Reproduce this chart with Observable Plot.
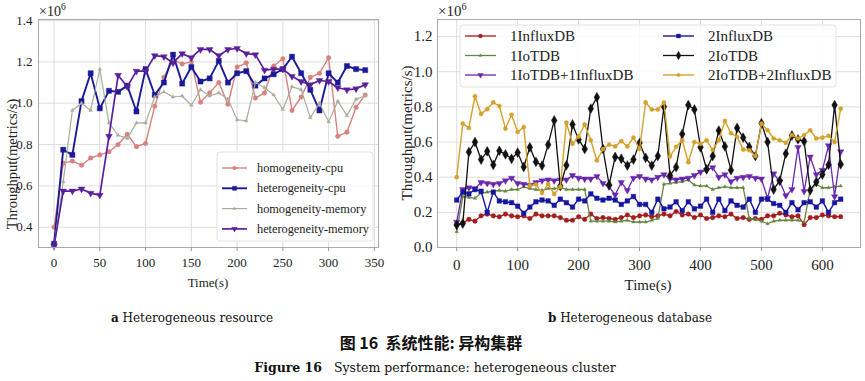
<!DOCTYPE html>
<html><head><meta charset="utf-8">
<script src="https://cdn.jsdelivr.net/npm/d3@7"></script>
<script src="https://cdn.jsdelivr.net/npm/@observablehq/plot@0.6"></script>
<style>
body{margin:0;background:#fff;}
#root{position:relative;width:865px;height:381px;overflow:hidden;font-family:"Liberation Serif",serif;background:#fff;}
#left{position:absolute;left:0;top:0;}
#right{position:absolute;left:400px;top:0;}
.cap{position:absolute;white-space:pre;transform:translate(-50%,-50%);color:#111;}
</style></head><body>
<div id="root">
<div id="left"></div><div id="right"></div>
<div class="cap" style="left:192px;top:318px;font-family:'DejaVu Serif';font-size:12px"><b>a</b> Heterogeneous resource</div>
<div class="cap" style="left:630px;top:318px;font-family:'DejaVu Serif';font-size:12px"><b>b</b> Heterogeneous database</div>
<div class="cap" style="left:431px;top:342px;font-family:'Noto Sans CJK SC';font-weight:bold;font-size:16px">图 16  系统性能: 异构集群</div>
<div class="cap" style="left:435px;top:367px;font-family:'DejaVu Serif';font-size:12.5px"><b>Figure 16</b>   System performance: heterogeneous cluster</div>
</div>
<script>
// ---------- Data: panel a ----------
const timeA = [0,10,20,30,40,50,60,70,80,90,100,110,120,130,140,150,160,170,180,190,200,210,220,230,240,250,260,270,280,290,300,310,320,330,340];
const homoCpu = [0.40,0.71,0.72,0.70,0.735,0.75,0.765,0.80,0.85,0.79,0.805,0.985,1.125,1.21,1.19,1.20,1.005,1.05,1.10,0.995,1.175,1.195,1.025,1.05,1.18,1.215,0.965,1.03,1.125,1.145,1.22,0.84,0.86,0.98,1.04];
const heteroCpu = [0.32,0.775,0.75,1.01,1.145,0.975,1.06,1.055,1.085,0.96,1.165,1.04,1.10,1.235,1.095,1.175,1.105,1.12,1.205,1.10,1.145,1.155,1.085,1.12,1.14,1.165,1.225,1.145,1.065,0.965,1.145,1.10,1.18,1.165,1.16];
const homoMem = [0.31,0.62,0.965,1.0,0.965,1.165,0.905,0.845,0.83,0.905,0.905,1.03,1.055,1.03,1.035,0.99,1.065,1.035,1.05,1.02,0.92,0.915,1.1,1.075,1.04,0.97,1.08,1.065,0.93,1.0,0.91,1.01,0.94,1.02,1.035];
const heteroMem = [0.31,0.575,0.575,0.585,0.565,0.555,0.84,1.135,1.08,1.155,1.155,1.23,1.225,1.195,1.24,1.22,1.26,1.26,1.23,1.26,1.265,1.24,1.235,1.16,1.165,1.165,1.13,1.105,1.09,1.11,1.105,1.075,1.065,1.07,1.09];
const xTicksA = [0,50,100,150,200,250,300,350];
const yTicksA = [0.4,0.6,0.8,1.0,1.2,1.4];

// ---------- Data: panel b ----------
const timeB = [0,10,20,30,40,50,60,70,80,90,100,110,120,130,140,150,160,170,180,190,200,210,220,230,240,250,260,270,280,290,300,310,320,330,340,350,360,370,380,390,400,410,420,430,440,450,460,470,480,490,500,510,520,530,540,550,560,570,580,590,600,610,620,630];
const influx1 = [0.13,0.14,0.16,0.15,0.18,0.19,0.18,0.175,0.19,0.18, 0.175,0.18,0.165,0.19,0.18,0.18,0.18,0.17,0.155,0.155, 0.175,0.16,0.19,0.165,0.17,0.165,0.16,0.17,0.185,0.17, 0.18,0.185,0.175,0.18,0.19,0.18,0.205,0.185,0.19,0.17, 0.185,0.165,0.17,0.18,0.175,0.19,0.165,0.17,0.16,0.165, 0.16,0.18,0.18,0.195,0.185,0.175,0.18,0.13,0.17,0.17, 0.185,0.18,0.175,0.175];
const iotdb1 = [0.09,0.29,0.285,0.28,0.31,0.315,0.32,0.325,0.32,0.33, 0.33,0.345,0.335,0.33,0.325,0.335,0.335,0.34,0.33,0.33, 0.33,0.33,0.15,0.15,0.15,0.15,0.145,0.15,0.155,0.145, 0.145,0.145,0.155,0.165,0.36,0.365,0.37,0.375,0.385,0.355, 0.35,0.35,0.33,0.34,0.345,0.34,0.34,0.34,0.165,0.16, 0.15,0.135,0.15,0.155,0.155,0.155,0.155,0.145,0.33,0.36, 0.34,0.34,0.345,0.35];
const mix1 = [0.145,0.33,0.34,0.335,0.37,0.365,0.36,0.365,0.38,0.395, 0.365,0.36,0.355,0.37,0.38,0.385,0.38,0.385,0.385,0.41, 0.395,0.39,0.39,0.405,0.365,0.345,0.30,0.37,0.325,0.395, 0.405,0.39,0.385,0.40,0.415,0.39,0.385,0.39,0.395,0.41, 0.43,0.44,0.455,0.40,0.415,0.375,0.395,0.40,0.405,0.395, 0.39,0.28,0.42,0.375,0.295,0.33,0.57,0.32,0.515,0.415, 0.44,0.58,0.29,0.545];
const influx2 = [0.27,0.315,0.305,0.33,0.32,0.20,0.315,0.265,0.26,0.255, 0.235,0.195,0.23,0.26,0.27,0.265,0.24,0.275,0.255,0.23, 0.275,0.265,0.305,0.28,0.27,0.28,0.27,0.245,0.265,0.29, 0.245,0.245,0.20,0.275,0.22,0.23,0.26,0.21,0.26,0.22, 0.235,0.275,0.20,0.275,0.21,0.265,0.24,0.23,0.275,0.20, 0.275,0.275,0.25,0.24,0.20,0.255,0.215,0.255,0.26,0.23, 0.265,0.20,0.255,0.275];
const iotdb2 = [0.128,0.136,0.543,0.60,0.50,0.547,0.47,0.55,0.53,0.505, 0.54,0.458,0.57,0.487,0.466,0.585,0.723,0.35,0.468,0.70, 0.615,0.56,0.79,0.855,0.56,0.357,0.515,0.505,0.466,0.50, 0.595,0.51,0.466,0.52,0.80,0.41,0.457,0.645,0.81,0.785, 0.57,0.445,0.52,0.665,0.575,0.44,0.68,0.625,0.572,0.52, 0.707,0.60,0.33,0.38,0.534,0.637,0.615,0.604,0.326,0.373, 0.415,0.47,0.81,0.473];
const mix2 = [0.40,0.705,0.68,0.86,0.76,0.787,0.825,0.805,0.676,0.755, 0.657,0.685,0.35,0.358,0.31,0.36,0.305,0.345,0.71,0.59, 0.63,0.70,0.61,0.495,0.56,0.585,0.575,0.605,0.575,0.625, 0.56,0.825,0.785,0.785,0.825,0.518,0.573,0.61,0.485,0.60, 0.59,0.61,0.555,0.61,0.72,0.65,0.63,0.557,0.553,0.52, 0.705,0.667,0.62,0.61,0.595,0.64,0.62,0.64,0.667,0.62, 0.625,0.635,0.60,0.79];
const xTicksB = [0,100,200,300,400,500,600];
const yTicksB = [0,0.2,0.4,0.6,0.8,1.0,1.2];

// ---------- series styles ----------
const seriesA = [
  {name:"homogeneity-cpu", values:homoCpu, color:"#d9817f", symbol:"circle", r:2.3, rotate:0, sw:1.4},
  {name:"heterogeneity-cpu", values:heteroCpu, color:"#1a1a98", symbol:"square", r:2.9, rotate:0, sw:1.9},
  {name:"homogeneity-memory", values:homoMem, color:"#a6ae9e", symbol:"triangle", r:1.4, rotate:0, sw:1.2},
  {name:"heterogeneity-memory", values:heteroMem, color:"#5a1f9c", symbol:"triangle", r:2.5, rotate:180, sw:1.7}
];
const seriesB = [
  {name:"1InfluxDB", values:influx1, color:"#a51c1c", symbol:"circle", r:2.3, rotate:0, sw:1.3},
  {name:"1IoTDB", values:iotdb1, color:"#66863f", symbol:"triangle", r:1.3, rotate:0, sw:1.3},
  {name:"1IoTDB+1InfluxDB", values:mix1, color:"#6a27ae", symbol:"triangle", r:2.4, rotate:180, sw:1.3},
  {name:"2InfluxDB", values:influx2, color:"#1616a0", symbol:"square", r:2.6, rotate:0, sw:1.4},
  {name:"2IoTDB", values:iotdb2, color:"#111111", symbol:"diamond", r:3.0, rotate:0, sw:1.3},
  {name:"2IoTDB+2InfluxDB", values:mix2, color:"#d4a12b", symbol:"circle", r:2.1, rotate:0, sw:1.4}
];

function rows(times, s){ return s.values.map((v,i)=>({t:times[i], v, name:s.name})); }
function seriesMarks(times, list){
  return list.flatMap(s => {
    const d = rows(times, s);
    return [
      Plot.line(d,{x:"t",y:"v",stroke:s.color,strokeWidth:s.sw}),
      Plot.dot(d,{x:"t",y:"v",symbol:s.symbol,r:s.r,fill:s.color,stroke:s.color,strokeWidth:0.4,rotate:s.rotate})
    ];
  });
}
const gridStyle = {stroke:"#dedede", strokeOpacity:1, strokeWidth:1};

const left = Plot.plot({
  width:400, height:300, marginLeft:38, marginRight:22, marginTop:19, marginBottom:53,
  style:{fontFamily:"Liberation Serif", background:"#fff", color:"#222", overflow:"hidden"},
  x:{domain:[-17,354.5]}, y:{domain:[0.302,1.405]},
  marks:[
    Plot.gridX(xTicksA, gridStyle),
    Plot.gridY(yTicksA, gridStyle),
    ...seriesMarks(timeA, seriesA),
    Plot.frame({stroke:"#aaa"}),
    Plot.axisX(xTicksA,{tickSize:4, tickPadding:6, fontSize:13, label:null, stroke:"#999"}),
    Plot.axisY(yTicksA,{tickSize:0, tickPadding:6, fontSize:13, tickFormat:d3.format(".1f"), label:null})
  ]
});

const right = Plot.plot({
  width:465, height:300, marginLeft:37, marginRight:5, marginTop:19, marginBottom:53,
  style:{fontFamily:"Liberation Serif", background:"#fff", color:"#222", overflow:"hidden"},
  x:{domain:[-31.5,662.5]}, y:{domain:[0,1.297]},
  marks:[
    Plot.gridX(xTicksB, gridStyle),
    Plot.gridY(yTicksB, gridStyle),
    ...seriesMarks(timeB, seriesB),
    Plot.frame({stroke:"#aaa"}),
    Plot.axisX(xTicksB,{tickSize:4, tickPadding:8, fontSize:15, label:null, stroke:"#999"}),
    Plot.axisY(yTicksB,{tickSize:0, tickPadding:5, fontSize:15, tickFormat:d3.format(".1f"), label:null})
  ]
});

document.getElementById("left").appendChild(left);
document.getElementById("right").appendChild(right);

const symMap = {circle:d3.symbolCircle, square:d3.symbolSquare, triangle:d3.symbolTriangle, diamond:d3.symbolDiamond};

function decorate(svgNode, o){
  const svg = d3.select(svgNode);
  // exponent
  const ex = svg.append("text").attr("x", o.exX).attr("y", 16).attr("text-anchor","start").attr("font-size", o.exSize).attr("fill","#222").attr("font-family","Liberation Serif");
  ex.append("tspan").text("×10");
  ex.append("tspan").attr("dy", -6).attr("font-size", o.exSize*0.68).text("6");
  // axis labels
  svg.append("text").attr("x", o.xlX).attr("y", o.xlY).attr("text-anchor","middle").attr("font-size", o.lblSize).attr("fill","#222").text("Time(s)");
  svg.append("text").attr("transform", `translate(${o.ylX},${o.ylY}) rotate(-90)`).attr("text-anchor","middle").attr("dominant-baseline","central").attr("font-size", o.ylSize).attr("fill","#222").text("Throughput(metrics/s)");
  // legend
  const g = svg.append("g").attr("text-anchor","start");
  g.append("rect").attr("x", o.lg.x).attr("y", o.lg.y).attr("width", o.lg.w).attr("height", o.lg.h).attr("rx",3).attr("fill","#fff").attr("fill-opacity",0.85).attr("stroke","#e2e2e2");
  o.items.forEach(it => {
    const s = it.s;
    g.append("line").attr("x1", it.x).attr("x2", it.x + o.lg.sw).attr("y1", it.y).attr("y2", it.y).attr("stroke", s.color).attr("stroke-width", s.sw);
    const rr = s.r * o.lg.ms;
    g.append("path").attr("d", d3.symbol(symMap[s.symbol], rr*rr*Math.PI)()).attr("transform", `translate(${it.x + o.lg.sw/2},${it.y}) rotate(${s.rotate})`).attr("fill", s.color).attr("stroke", s.color).attr("stroke-width",0.4);
    g.append("text").attr("x", it.x + o.lg.tx).attr("y", it.y).attr("text-anchor","start").attr("dominant-baseline","central").attr("font-size", o.lg.fs).attr("fill","#222").text(s.name);
  });
}

decorate(left, {
  exX:39, exSize:14, xlX:208, xlY:287, lblSize:13, ylX:12, ylY:164, ylSize:14.5,
  lg:{x:217, y:152, w:156, h:89, sw:25, tx:35, fs:12.3, ms:0.8},
  items: seriesA.map((s,i)=>({s, x:222, y:168 + i*20.3}))
});
decorate(right, {
  exX:38, exSize:15, xlX:248, xlY:290, lblSize:15, ylX:7, ylY:133, ylSize:15,
  lg:{x:60, y:25, w:376, h:62, sw:31, tx:45, fs:15, ms:0.85},
  items: seriesB.map((s,i)=>({s, x: i<3 ? 65 : 263, y: 36 + (i%3)*19.5}))
});
</script>
</body></html>
